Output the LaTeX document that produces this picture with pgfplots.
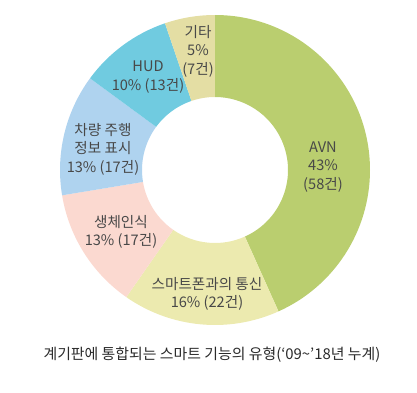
\documentclass[border=0pt]{standalone}
\usepackage{pgfplots}
\pgfplotsset{compat=1.18}
\usepackage{pgfplotstable}
\usepackage{fontspec}
\setmainfont{Noto Sans CJK KR}
\definecolor{cAVN}{HTML}{BACE6F}
\definecolor{cPhone}{HTML}{ECEAAF}
\definecolor{cBio}{HTML}{FBD9D0}
\definecolor{cCar}{HTML}{AFD3EF}
\definecolor{cHUD}{HTML}{70CBE0}
\definecolor{cEtc}{HTML}{E4DEA4}
\definecolor{lbl}{HTML}{484848}
\definecolor{cap}{HTML}{2A2A2A}
\tikzset{lab/.style={font=\fontsize{14.6bp}{18.5bp}\selectfont, text=lbl, align=center, inner sep=0pt}}
\pgfplotstableread{
name count
AVN 58
Phone 22
Bio 17
Car 17
HUD 13
Etc 7
}\slices
\pgfplotstablegetelem{0}{count}\of\slices \let\cA\pgfplotsretval
\pgfplotstablegetelem{1}{count}\of\slices \let\cB\pgfplotsretval
\pgfplotstablegetelem{2}{count}\of\slices \let\cC\pgfplotsretval
\pgfplotstablegetelem{3}{count}\of\slices \let\cD\pgfplotsretval
\pgfplotstablegetelem{4}{count}\of\slices \let\cE\pgfplotsretval
\pgfplotstablegetelem{5}{count}\of\slices \let\cF\pgfplotsretval
\pgfmathsetmacro\tot{\cA+\cB+\cC+\cD+\cE+\cF}
\pgfmathsetmacro\aA{90}
\pgfmathsetmacro\aB{\aA-360*(\cA/\tot)}
\pgfmathsetmacro\aC{\aB-360*(\cB/\tot)}
\pgfmathsetmacro\aD{\aC-360*(\cC/\tot)}
\pgfmathsetmacro\aE{\aD-360*(\cD/\tot)}
\pgfmathsetmacro\aF{\aE-360*(\cE/\tot)}
\pgfmathsetmacro\aG{\aF-360*(\cF/\tot)}
\newcommand\slice[3]{\fill[#3] (axis cs:{215+155*cos(#1)},{223+155*sin(#1)}) arc[start angle=#1,end angle=#2,radius=155] -- (axis cs:{215+73*cos(#2)},{223+73*sin(#2)}) arc[start angle=#2,end angle=#1,radius=73] -- cycle;}
\begin{document}
\begin{tikzpicture}
\begin{axis}[hide axis, x=1bp, y=1bp, xmin=0, xmax=417, ymin=0, ymax=393, clip=false]
\path (axis cs:0,0) rectangle (axis cs:417,393);
\slice{\aA}{\aB}{cAVN}
\slice{\aB}{\aC}{cPhone}
\slice{\aC}{\aD}{cBio}
\slice{\aD}{\aE}{cCar}
\slice{\aE}{\aF}{cHUD}
\slice{\aF}{\aG}{cEtc}
\node[lab] at (axis cs:323,226) {AVN\\43\%\\(58건)};
\node[lab] at (axis cs:207,99) {스마트폰과의 통신\\16\% (22건)};
\node[lab] at (axis cs:121,161) {생체인식\\13\% (17건)};
\node[lab] at (axis cs:103,244) {차량 주행\\정보 표시\\13\% (17건)};
\node[lab] at (axis cs:148,316) {HUD\\10\% (13건)};
\node[lab] at (axis cs:198,342) {기타\\5\%\\(7건)};
\node[lab, text=cap, font=\fontsize{14.9bp}{18bp}\selectfont] at (axis cs:212,38) {계기판에 통합되는 스마트 기능의 유형(‘09\textasciitilde’18년 누계)};
\end{axis}
\end{tikzpicture}
\end{document}
